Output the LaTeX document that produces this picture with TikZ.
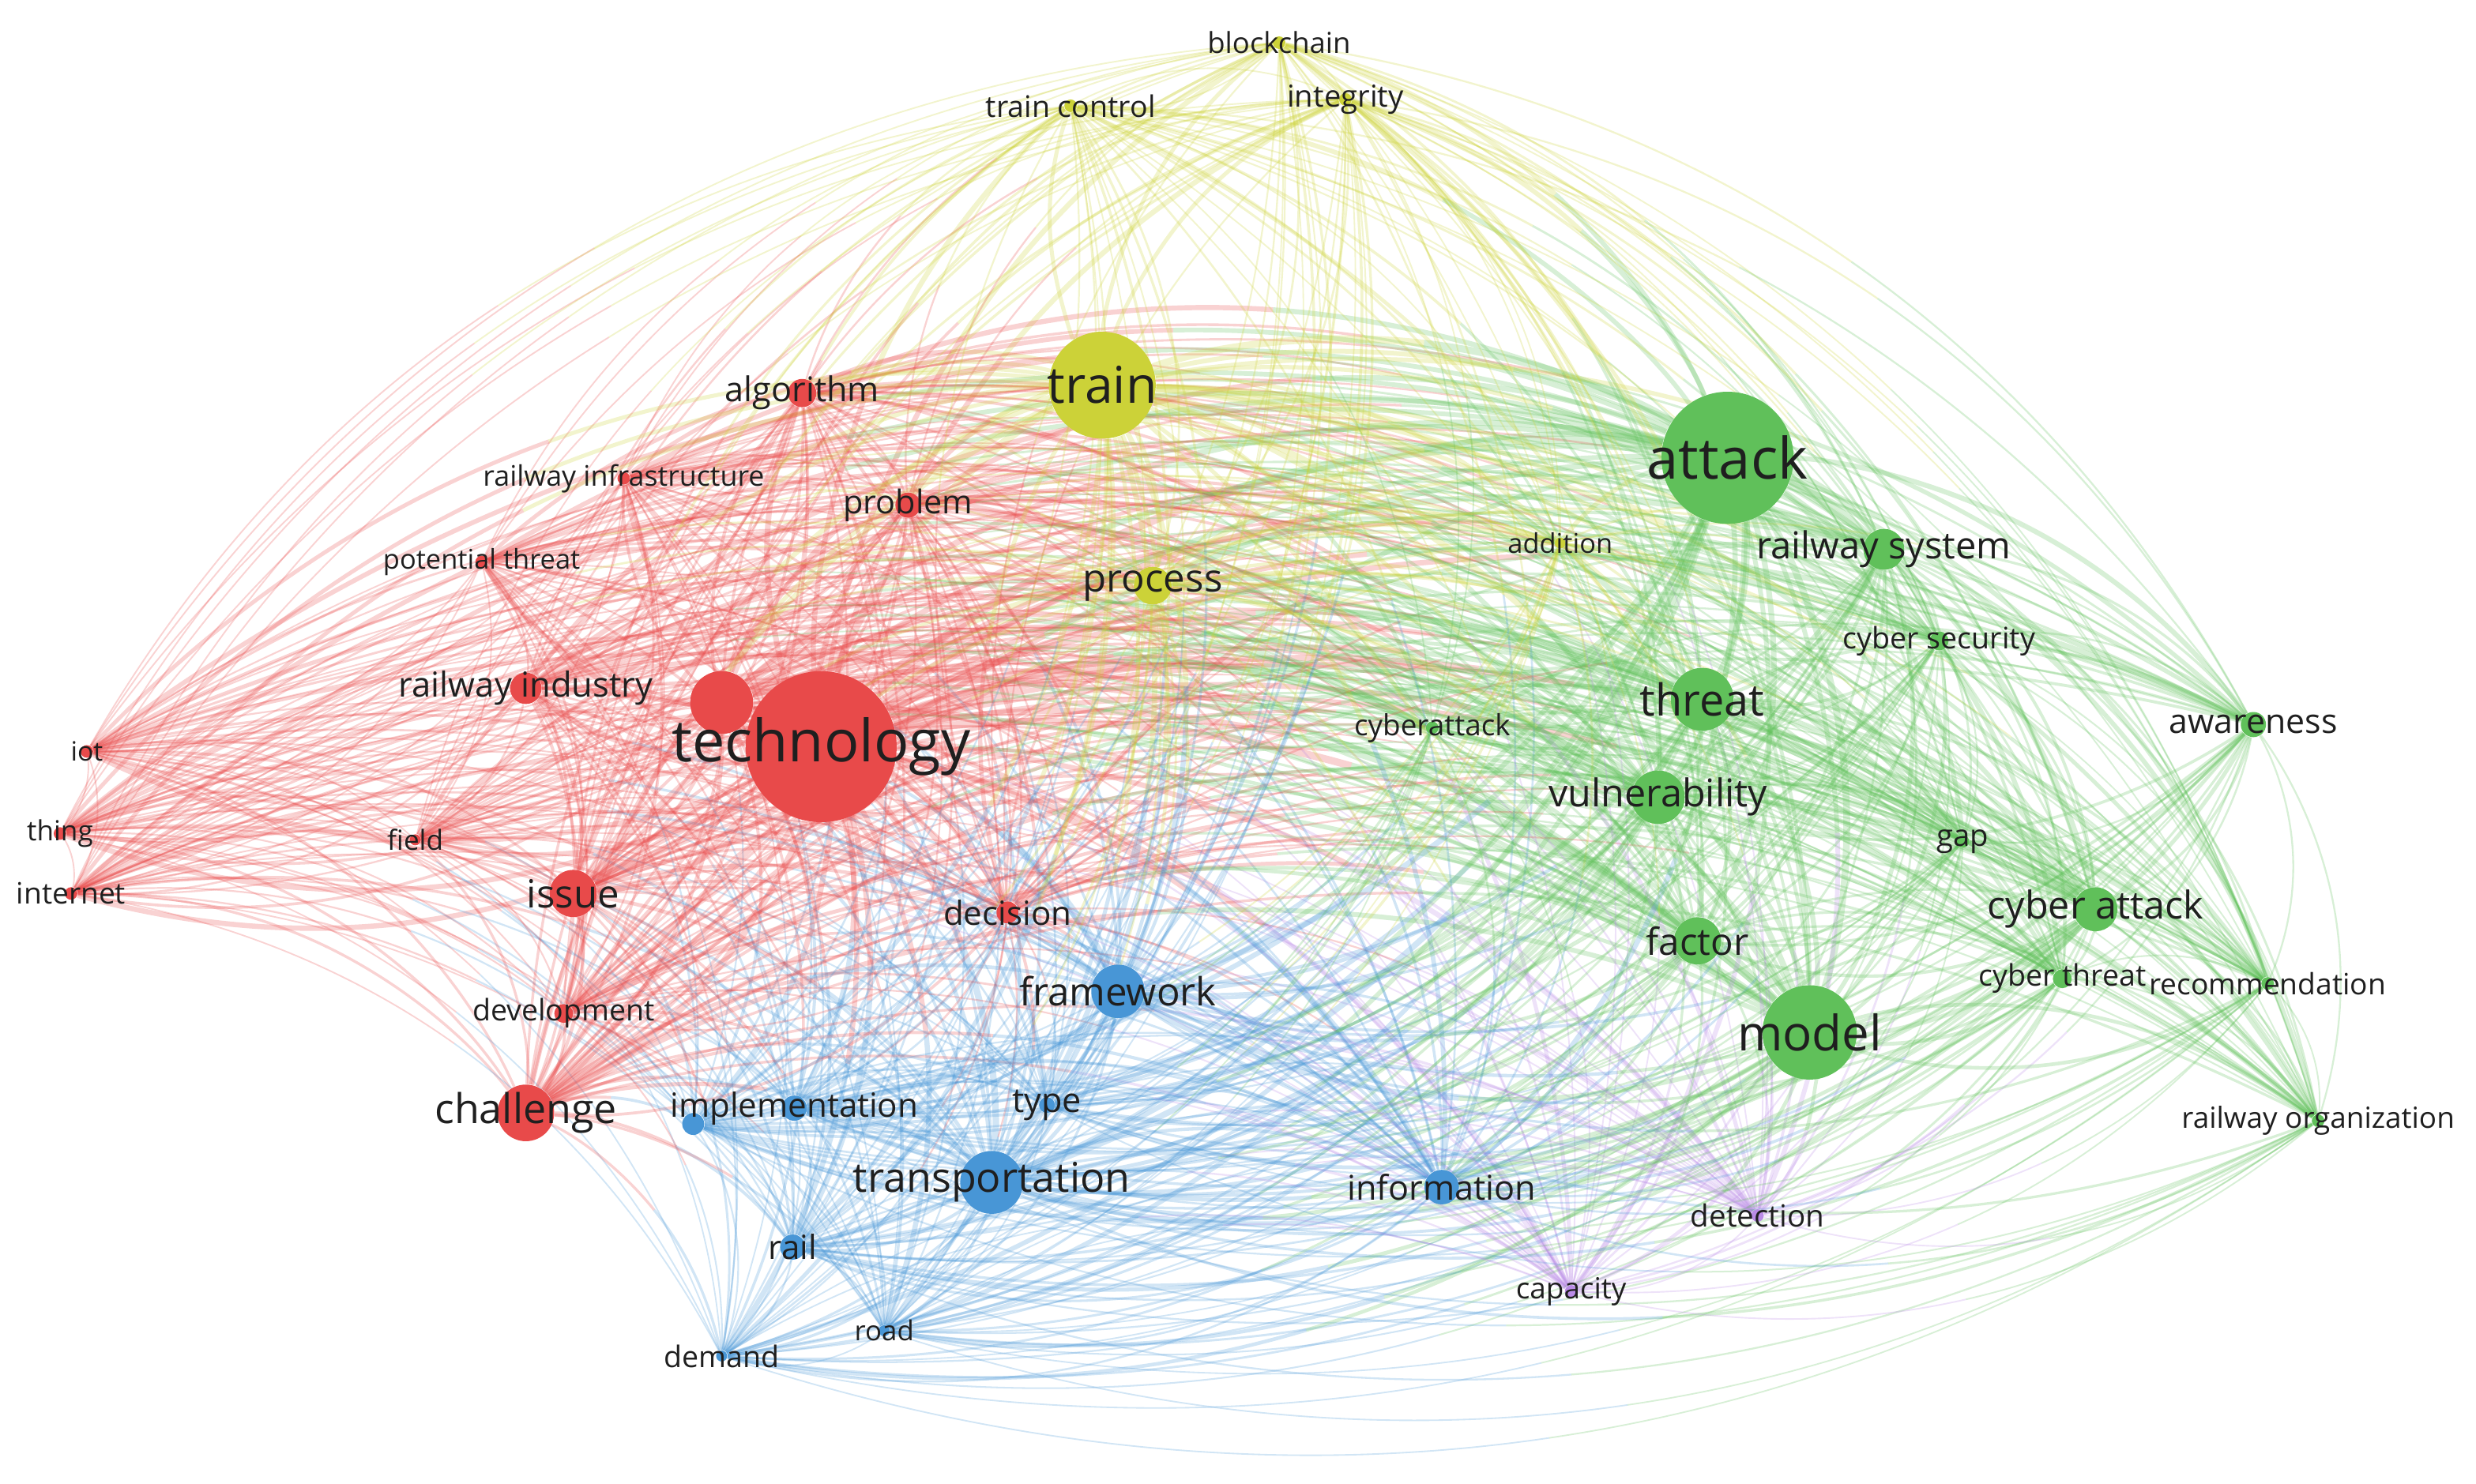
\documentclass[tikz,border=0pt]{standalone}
\usepackage{fontspec}
\setmainfont{Open Sans}
\definecolor{vred}{RGB}{232,74,74}
\definecolor{vgreen}{RGB}{96,192,90}
\definecolor{vyellow}{RGB}{204,210,56}
\definecolor{vblue}{RGB}{72,150,214}
\definecolor{vpurple}{RGB}{186,140,230}
\pgfdeclarelayer{background}
\pgfsetlayers{background,main}

% name/x/y/diameter/colour/font size/label
\def\kwlist{tech/520/473/96/vred/21/technology,
 sys/457/445/40/vred/12/{},
 algo/508/249/18/vred/12.3/algorithm,
 rinfra/395/303/8/vred/10.2/railway infrastructure,
 problem/575/320/16/vred/11.8/problem,
 pthreat/305/356/8/vred/9.8/potential threat,
 rind/333/436/20/vred/12.4/railway industry,
 iot/55/476/8/vred/9.6/iot,
 thing/38/528/8/vred/10/thing,
 internet/45/566/8/vred/10.6/internet,
 field/263/532/7/vred/10/field,
 issue/363/566/30/vred/14/issue,
 decision/638/578/14/vred/12/decision,
 devel/357/642/12/vred/10.7/development,
 chall/333/705/36/vred/14.8/challenge,
 train/698/244/68/vyellow/18.3/train,
 blockchain/810/27/8/vyellow/10.4/blockchain,
 tcontrol/678/67/8/vyellow/10.7/train control,
 integrity/852/63/8/vyellow/10.9/integrity,
 process/730/371/24/vyellow/14/process,
 addition/988/344/7/vyellow/9.8/addition,
 attack/1094/290/84/vgreen/20.6/attack,
 rsys/1193/348/26/vgreen/13.4/railway system,
 cysec/1228/406/12/vgreen/10.7/cyber security,
 threat/1078/443/40/vgreen/15.9/threat,
 cyatt/907/461/8/vgreen/10.5/cyberattack,
 aware/1427/459/16/vgreen/12.2/awareness,
 vuln/1050/505/34/vgreen/13.8/vulnerability,
 gap/1243/533/8/vgreen/10.9/gap,
 cyatk/1327/576/28/vgreen/13.8/cyber attack,
 factor/1075/596/30/vgreen/13.5/factor,
 cythr/1306/620/12/vgreen/10.7/cyber threat,
 recom/1436/623/8/vgreen/10.6/recommendation,
 model/1146/654/60/vgreen/17.6/model,
 rorg/1468/710/8/vgreen/10.5/railway organization,
 framework/708/628/34/vblue/14/framework,
 impl/503/702/16/vblue/12/implementation,
 bsmall/439/712/14/vblue/12/{},
 type/663/700/10/vblue/12.3/type,
 transport/628/749/40/vblue/14.8/transportation,
 information/913/752/22/vblue/12.3/information,
 rail/502/790/16/vblue/12/rail,
 road/560/843/7/vblue/9.9/road,
 demand/457/859/7/vblue/10.7/demand,
 detection/1113/770/8/vpurple/11/detection,
 capacity/995/818/8/vpurple/10.5/capacity}

\begin{document}
\begin{tikzpicture}[x=.02cm,y=-.02cm]
\tikzset{kw/.style={circle,inner sep=0pt,fill=#1},
 lbl/.style={inner sep=0pt,text=black!88},
 link/.style={draw=#1,opacity=.25}}
\useasboundingbox (0,0) rectangle (1568,940);
% keyword circles
\foreach \n/\x/\y/\d/\c/\f/\t in \kwlist{
 \node[kw=\c,minimum size=\d*0.567pt] (\n) at (\x,\y) {};
}
% links: curved, each half in the colour of its own end
\begin{pgfonlayer}{background}
\foreach \n/\x/\y/\d/\c/\f/\t [count=\i] in \kwlist{
 \foreach \m/\xx/\yy/\dd/\cc/\ff/\tt [count=\j] in \kwlist{
  \ifnum\i<\j\relax
   \pgfmathsetmacro\kx{(\x+\xx)/2+.25*(\yy-\y)}
   \pgfmathsetmacro\ky{(\y+\yy)/2-.25*(\xx-\x)}
   \pgfmathsetmacro\mpx{(\x+2*\kx+\xx)/4}
   \pgfmathsetmacro\mpy{(\y+2*\ky+\yy)/4}
   \pgfmathsetmacro\lw{.3+.015*(\d+\dd)}
   \coordinate (mid) at (\mpx,\mpy);
   \draw[link=\c,line width=\lw pt] (\n)
    .. controls ({\x+(\kx-\x)/3},{\y+(\ky-\y)/3})
    and ({\mpx+((\x+\kx)/2-\mpx)*2/3},{\mpy+((\y+\ky)/2-\mpy)*2/3}) .. (mid);
   \draw[link=\cc,line width=\lw pt] (mid)
    .. controls ({\mpx+((\xx+\kx)/2-\mpx)*2/3},{\mpy+((\yy+\ky)/2-\mpy)*2/3})
    and ({\xx+(\kx-\xx)/3},{\yy+(\ky-\yy)/3}) .. (\m);
  \fi}
}
\end{pgfonlayer}
% labels
\foreach \n/\x/\y/\d/\c/\f/\t in \kwlist{
 \node[lbl,font=\fontsize{\f}{\f}\selectfont] (\n-l) at (\x,\y) {\t};
}
\end{tikzpicture}
\end{document}
